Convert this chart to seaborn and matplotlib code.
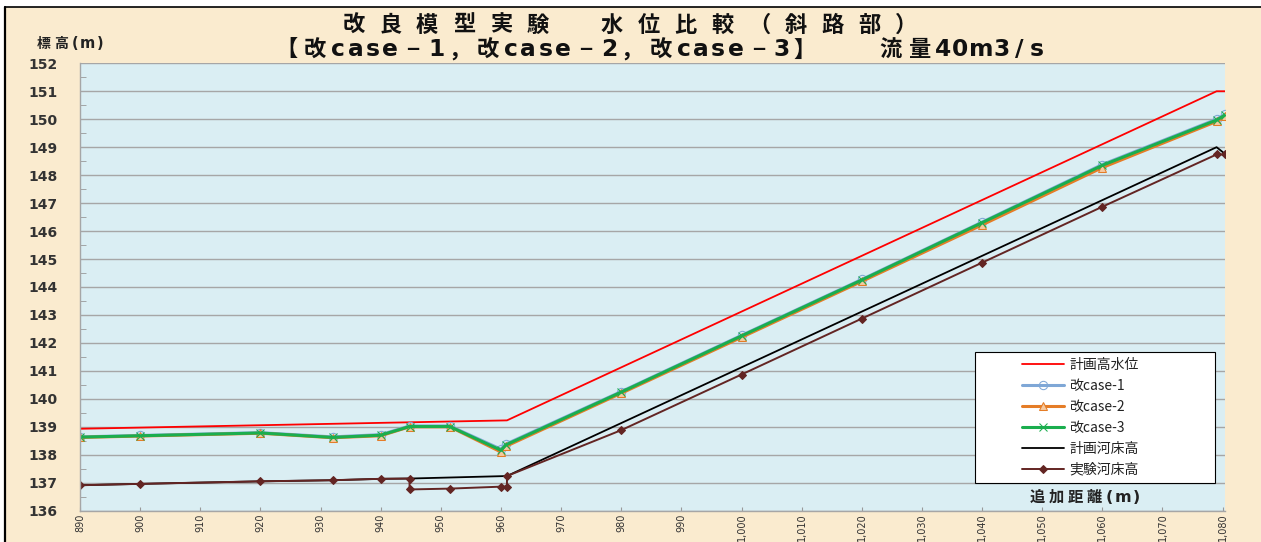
import matplotlib
matplotlib.use("Agg")
import matplotlib.pyplot as plt
from matplotlib.patches import Rectangle
from matplotlib.lines import Line2D
import seaborn as sns

# ---- data ----
case_x = [890, 900, 920, 932, 940, 944.8, 951.5, 960, 960.8,
          980, 1000, 1020, 1040, 1060, 1079, 1080.4]
case1 = [138.64, 138.69, 138.79, 138.64, 138.72, 139.03, 139.03, 138.20, 138.38,
         140.26, 142.27, 144.27, 146.32, 148.38, 150.00, 150.17]
case2 = [138.62, 138.67, 138.77, 138.61, 138.68, 139.00, 139.00, 138.10, 138.30,
         140.20, 142.20, 144.20, 146.22, 148.27, 149.92, 150.10]
case3 = [138.63, 138.68, 138.78, 138.62, 138.70, 139.01, 139.01, 138.16, 138.35,
         140.24, 142.25, 144.25, 146.30, 148.35, 149.97, 150.15]

hwl_x = [890, 961, 1079, 1080.4]
hwl_y = [138.93, 139.23, 151.0, 151.0]

plan_bed_x = [890, 900, 920, 932, 940, 944.8, 961, 1079, 1080.4]
plan_bed_y = [136.91, 136.96, 137.05, 137.09, 137.14, 137.15, 137.24, 149.0, 148.76]

exp_bed_x = [890, 900, 920, 932, 940, 944.8, 944.8, 951.5, 960, 961, 961,
             980, 1000, 1020, 1040, 1060, 1079, 1080.4]
exp_bed_y = [136.91, 136.96, 137.05, 137.09, 137.14, 137.15, 136.76, 136.79, 136.86, 136.86, 137.24,
             138.88, 140.87, 142.87, 144.87, 146.87, 148.74, 148.74]

x_ticks = list(range(890, 1081, 10))
y_ticks = list(range(136, 153))

labels = ["計画高水位", "改case-1", "改case-2", "改case-3", "計画河床高", "実験河床高"]
title1 = "改良模型実験　水位比較（斜路部）"
title2 = "【改case−1，改case−2，改case−3】　　流量40m3/s"

sns.set_style("white")
plt.rcParams["font.family"] = ["Noto Sans CJK JP", "DejaVu Sans"]

W, H = 1261, 542
beige = "#FAEBCF"
plot_bg = "#DAEEF3"

fig = plt.figure(figsize=(W / 100, H / 100), dpi=100, facecolor="white")
fig.patches.append(Rectangle((5 / W, 0), 1, 535 / H, transform=fig.transFigure,
                             facecolor=beige, edgecolor="none", zorder=-10))
fig.add_artist(Line2D([5 / W, 5 / W], [0, 535 / H], color="black", lw=1.6))
fig.add_artist(Line2D([5 / W, 1], [535 / H, 535 / H], color="black", lw=1.2))


def spread_text(s, x0, x1, y, size, **kw):
    # lay the characters out in equal slots (latin gets a narrower slot), like the wide Excel title font
    w = [1.0 if ord(c) > 0x2000 else (0.85 if c == "m" else 0.6) for c in s]
    unit = (x1 - x0) / sum(w)
    x = x0
    for c, wi in zip(s, w):
        if c.strip() and c != "　":
            cjk = ord(c) > 0x2000
            fig.text((x + wi * unit / 2) / W, 1 - y / H, c, ha="center", va="center",
                     fontsize=size if cjk else size * 1.05,
                     family=["Noto Sans CJK JP"] if cjk else ["DejaVu Sans"], **kw)
        x += wi * unit


ax = fig.add_axes([80 / W, 31.3 / H, 1145 / W, 447.4 / H])
ax.set_facecolor(plot_bg)

sns.lineplot(x=hwl_x, y=hwl_y, ax=ax, sort=False, estimator=None,
             color="#FF0000", lw=1.3)
sns.lineplot(x=case_x, y=case1, ax=ax, sort=False, estimator=None, color="#7FA7D6", lw=2.2,
             marker="o", markersize=6, markerfacecolor="none", markeredgecolor="#7FA7D6")
sns.lineplot(x=case_x, y=case2, ax=ax, sort=False, estimator=None, color="#E57D27", lw=2.2,
             marker="^", markersize=6, markerfacecolor="#F5C9A0", markeredgecolor="#E57D27")
sns.lineplot(x=case_x, y=case3, ax=ax, sort=False, estimator=None, color="#1AAE4E", lw=2.2,
             marker="x", markersize=6, markeredgecolor="#1AAE4E")
sns.lineplot(x=plan_bed_x, y=plan_bed_y, ax=ax, sort=False, estimator=None,
             color="black", lw=1.3)
sns.lineplot(x=exp_bed_x, y=exp_bed_y, ax=ax, sort=False, estimator=None, color="#632523", lw=1.4,
             marker="D", markersize=4, markeredgecolor="#632523")

ax.set_xlim(890, 1080.4)
ax.set_ylim(136, 152)
ax.set_xticks(x_ticks)
ax.set_xticklabels([f"{v:,}" for v in x_ticks], rotation=90, fontsize=7,
                   family=["Liberation Sans Narrow", "DejaVu Sans"], color="#333333")
ax.set_yticks(y_ticks)
ax.set_yticklabels([str(v) for v in y_ticks], fontsize=10, color="#333333",
                   family="DejaVu Sans", fontweight="bold")
ax.set_yticks([v + 0.5 for v in y_ticks[:-1]], minor=True)
ax.tick_params(axis="y", which="major", length=0, pad=16)
ax.tick_params(axis="y", which="minor", direction="in", length=4, color="#999999", left=True)
ax.tick_params(axis="x", which="major", direction="in", length=3, color="#999999", bottom=True, pad=2)
ax.grid(axis="y", which="major", color="#A6A6A6", lw=1)
ax.grid(axis="x", visible=False)
ax.set_xlabel("")
ax.set_ylabel("")
for side in ["top", "right"]:
    ax.spines[side].set_visible(False)
for side in ["left", "bottom"]:
    ax.spines[side].set_color("#A6A6A6")
    ax.spines[side].set_linewidth(1)

# legend with a wide frame drawn by hand
ax.add_patch(Rectangle(((975 - 80) / 1145, (510.7 - 483) / 447.4), 240 / 1145, 131 / 447.4,
                       transform=ax.transAxes, facecolor="white", edgecolor="black",
                       lw=0.8, zorder=4.9))
handles = ax.get_lines()[:6]
leg = ax.legend(handles, labels, loc="upper left",
                bbox_to_anchor=((1015 - 80) / 1145, (510.7 - 351) / 447.4),
                frameon=False, fontsize=10, borderpad=0, labelspacing=0.5,
                handlelength=3.0, handletextpad=0.4)
leg.set_zorder(5)
for t in leg.get_texts():
    t.set_color("#222222")

spread_text("追加距離(m)", 1028, 1142, 497, 11, fontweight="bold", color="#222222")
spread_text("標高(m)", 35, 105, 44, 10, fontweight="bold", color="#222222")
spread_text(title1, 335, 925, 25, 16, fontweight="bold", color="#111111")
spread_text(title2, 272, 1045, 50, 16, fontweight="bold", color="#111111")

fig.savefig("out.png", dpi=100, facecolor=fig.get_facecolor())
